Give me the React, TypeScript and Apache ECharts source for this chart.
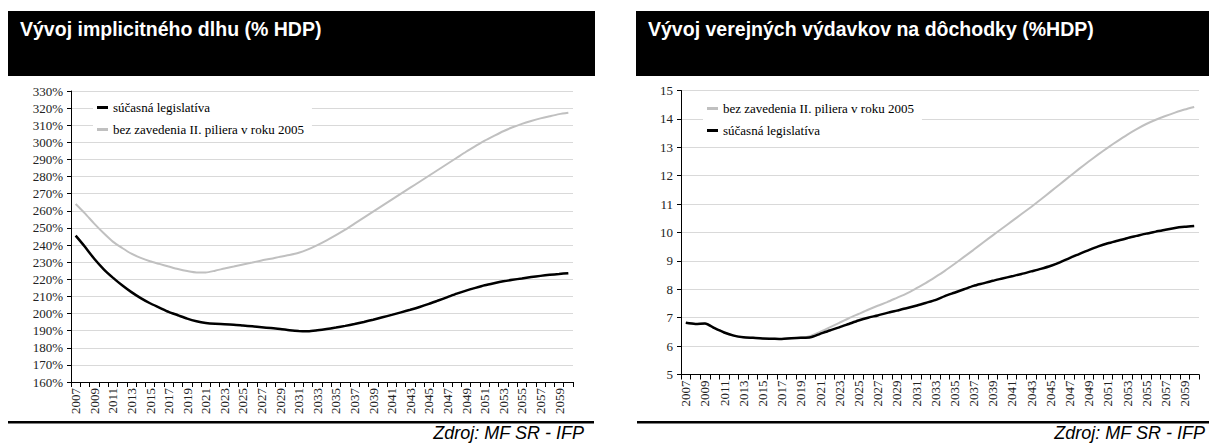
import React, { useEffect, useRef } from "react";
import * as echarts from "echarts";

const years = [
  "2007","2008","2009","2010","2011","2012","2013","2014","2015","2016",
  "2017","2018","2019","2020","2021","2022","2023","2024","2025","2026",
  "2027","2028","2029","2030","2031","2032","2033","2034","2035","2036",
  "2037","2038","2039","2040","2041","2042","2043","2044","2045","2046",
  "2047","2048","2049","2050","2051","2052","2053","2054","2055","2056",
  "2057","2058","2059","2060",
];

const NAME_CUR = "súčasná legislatíva";
const NAME_NO2 = "bez zavedenia II. piliera v roku 2005";

// Left chart: implicit debt (% HDP)
const debtCurrent = [
  245.5, 239, 232, 226, 221, 216.5, 212.5, 209, 206, 203.5,
  201, 199, 197, 195.5, 194.5, 194, 193.8, 193.5, 193, 192.5,
  192, 191.5, 191, 190.3, 189.8, 189.7, 190.2, 190.9, 191.8, 192.8,
  193.9, 195.1, 196.4, 197.8, 199.2, 200.7, 202.2, 203.8, 205.6, 207.6,
  209.6, 211.6, 213.4, 215, 216.5, 217.7, 218.8, 219.7, 220.5, 221.3,
  222, 222.6, 223.1, 223.6,
];
const debtNoPillar = [
  264, 258.5, 252.5, 247, 242, 238.3, 235, 232.5, 230.5, 229,
  227.5, 226, 224.8, 224, 224, 225, 226.3, 227.5, 228.7, 229.8,
  231, 232, 233.2, 234.2, 235.5, 237.5, 240, 242.8, 245.8, 249,
  252.5, 256, 259.5, 263, 266.5, 270, 273.5, 277, 280.5, 284,
  287.5, 291, 294.5, 297.8, 301, 303.8, 306.5, 308.8, 310.8, 312.5,
  314, 315.3, 316.5, 317.3,
];

// Right chart: public pension expenditures (% HDP)
const pensCurrent = [
  6.82, 6.78, 6.8, 6.63, 6.48, 6.37, 6.31, 6.29, 6.27, 6.26,
  6.25, 6.28, 6.29, 6.31, 6.43, 6.55, 6.66, 6.78, 6.9, 7.0,
  7.08, 7.17, 7.25, 7.33, 7.42, 7.52, 7.62, 7.76, 7.88, 8.0,
  8.12, 8.21, 8.3, 8.38, 8.46, 8.54, 8.63, 8.72, 8.82, 8.95,
  9.1, 9.24, 9.38, 9.51, 9.62, 9.71, 9.8, 9.88, 9.96, 10.03,
  10.1, 10.16, 10.2, 10.23,
];
const pensNoPillar = [
  6.82, 6.78, 6.8, 6.63, 6.48, 6.37, 6.31, 6.29, 6.27, 6.26,
  6.25, 6.28, 6.3, 6.36, 6.5, 6.66, 6.82, 6.98, 7.13, 7.28,
  7.42, 7.55, 7.7, 7.85, 8.03, 8.22, 8.43, 8.65, 8.89, 9.14,
  9.39, 9.65, 9.9, 10.15, 10.4, 10.65, 10.9, 11.16, 11.43, 11.7,
  11.97, 12.24, 12.5, 12.75, 12.99, 13.22, 13.44, 13.64, 13.82, 13.97,
  14.1, 14.22, 14.33, 14.42,
];

const titleLeft = "Vývoj implicitného dlhu (% HDP)";
const titleRight = "Vývoj verejných výdavkov na dôchodky (%HDP)";
const sourceText = "Zdroj: MF SR - IFP";

const SERIF = "'Liberation Serif', 'DejaVu Serif', serif";
const SANS = "'Liberation Sans', Arial, sans-serif";
const BLACK = "#000000";
const GRAY = "#c0c0c0";

function xAxisCfg(gridIndex: number) {
  return {
    type: "category",
    gridIndex,
    data: years,
    boundaryGap: true,
    axisLine: { show: true, lineStyle: { color: "#000", width: 1 } },
    axisTick: { show: true, interval: 0, length: 5, lineStyle: { color: "#000" } },
    axisLabel: {
      interval: 1,
      rotate: 90,
      margin: 6,
      fontFamily: SERIF,
      fontSize: 13,
      color: "#222",
    },
    splitLine: { show: false },
  };
}

function yAxisCfg(gridIndex: number, min: number, max: number, interval: number, fmt: string) {
  return {
    type: "value",
    gridIndex,
    min,
    max,
    interval,
    axisLine: { show: true, lineStyle: { color: "#000", width: 1 } },
    axisTick: { show: true, length: 4, lineStyle: { color: "#000" } },
    axisLabel: {
      formatter: fmt,
      margin: 8,
      fontFamily: SERIF,
      fontSize: 13,
      color: "#222",
    },
    splitLine: { show: true, lineStyle: { color: "#d9d9d9", width: 1 } },
  };
}

function lineSeries(name: string, xi: number, data: number[], color: string, width: number, z: number) {
  return {
    type: "line",
    name,
    xAxisIndex: xi,
    yAxisIndex: xi,
    data,
    symbol: "none",
    smooth: 0.25,
    z,
    lineStyle: { color, width },
    itemStyle: { color },
  };
}

export default function App() {
  const ref = useRef<HTMLDivElement>(null);
  useEffect(() => {
    if (!ref.current) return;
    const chart = echarts.init(ref.current, undefined, { renderer: "svg" });
    const legendCommon = {
      orient: "vertical",
      icon: "rect",
      itemWidth: 11,
      itemHeight: 3,
      itemGap: 9,
      backgroundColor: "#ffffff",
      padding: [4, 8, 4, 4],
      textStyle: { fontFamily: SERIF, fontSize: 13, color: "#000" },
    };
    const option = {
      animation: false,
      graphic: [
        { type: "rect", shape: { x: 8, y: 11, width: 587, height: 65 }, style: { fill: "#000" } },
        { type: "rect", shape: { x: 636, y: 11, width: 600, height: 65 }, style: { fill: "#000" } },
        {
          type: "text", x: 20, y: 29, scaleX: 0.93,
          style: { text: titleLeft, fill: "#fff", font: `bold 21px ${SANS}`, verticalAlign: "middle" },
        },
        {
          type: "text", x: 648, y: 29, scaleX: 0.93,
          style: { text: titleRight, fill: "#fff", font: `bold 21px ${SANS}`, verticalAlign: "middle" },
        },
        { type: "rect", shape: { x: 8, y: 421, width: 586, height: 2.5 }, style: { fill: "#000" } },
        { type: "rect", shape: { x: 637, y: 421, width: 580, height: 2.5 }, style: { fill: "#000" } },
        {
          type: "text", x: 584, y: 433,
          style: { text: sourceText, fill: "#000", font: `italic 18px ${SANS}`, align: "right", verticalAlign: "middle" },
        },
        {
          type: "text", x: 1205, y: 433,
          style: { text: sourceText, fill: "#000", font: `italic 18px ${SANS}`, align: "right", verticalAlign: "middle" },
        },
      ],
      legend: [
        { ...legendCommon, left: 93, top: 97, data: [NAME_CUR, NAME_NO2] },
        { ...legendCommon, left: 703, top: 98, data: [NAME_NO2, NAME_CUR] },
      ],
      grid: [
        { left: 71, top: 91, width: 502, height: 291, containLabel: false },
        { left: 681, top: 90.5, width: 518, height: 284, containLabel: false },
      ],
      xAxis: [xAxisCfg(0), xAxisCfg(1)],
      yAxis: [
        yAxisCfg(0, 160, 330, 10, "{value}%"),
        yAxisCfg(1, 5, 15, 1, "{value}"),
      ],
      series: [
        lineSeries(NAME_NO2, 0, debtNoPillar, GRAY, 2, 2),
        lineSeries(NAME_CUR, 0, debtCurrent, BLACK, 2.5, 3),
        lineSeries(NAME_NO2, 1, pensNoPillar, GRAY, 2, 2),
        lineSeries(NAME_CUR, 1, pensCurrent, BLACK, 2.5, 3),
      ],
    };
    chart.setOption(option as any);
    return () => chart.dispose();
  }, []);
  return (
    <div
      ref={ref}
      style={{ position: "absolute", left: 0, top: 0, width: 1209, height: 446, background: "#fff" }}
    />
  );
}
